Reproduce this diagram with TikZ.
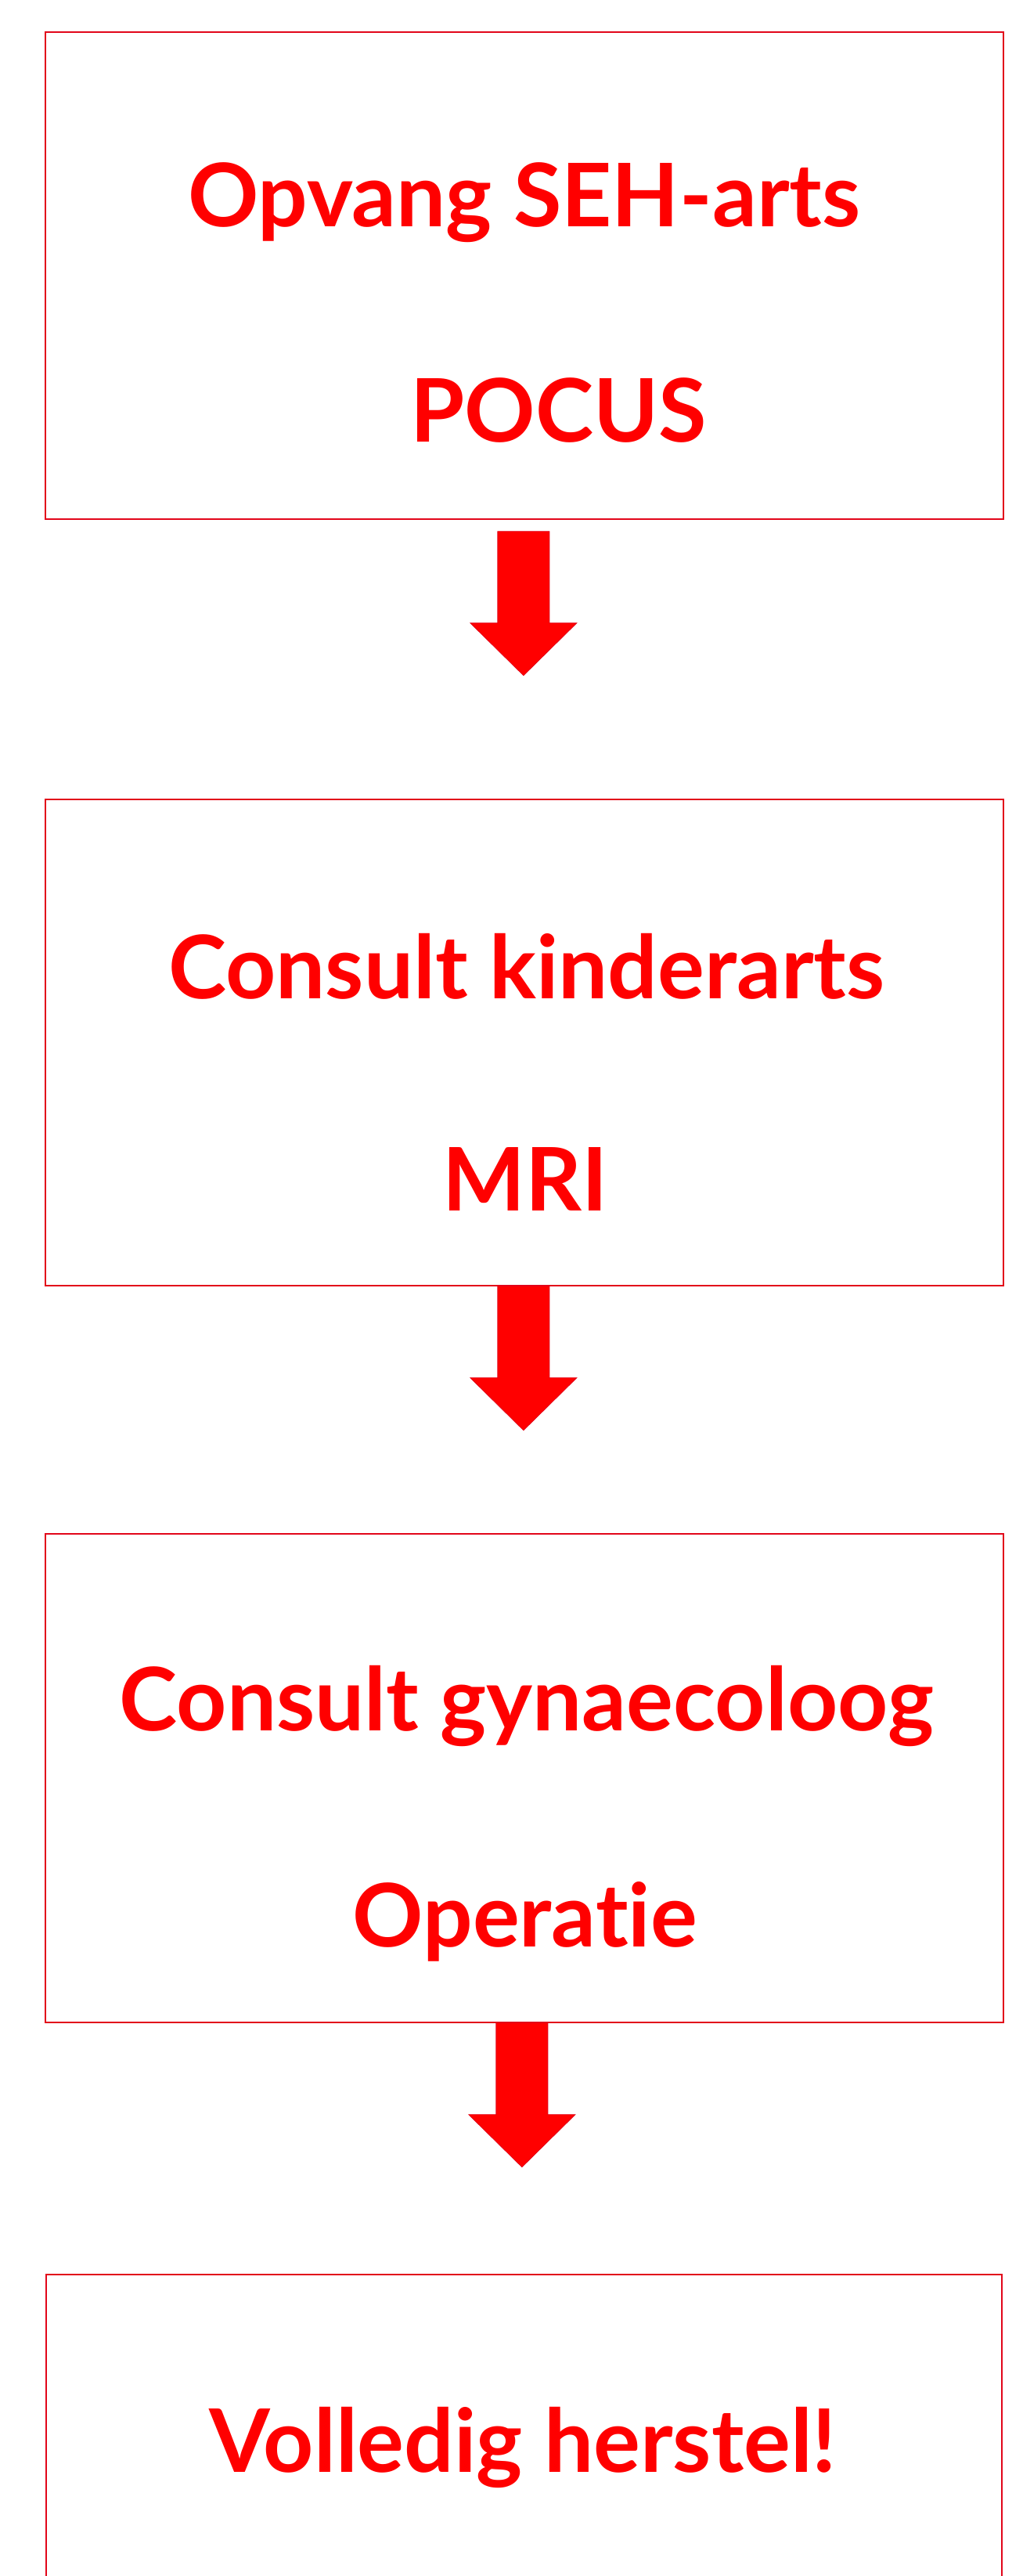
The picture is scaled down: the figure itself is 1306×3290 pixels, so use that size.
\documentclass[tikz,border=0pt]{standalone}
\usepackage{fontspec}
\setmainfont{Lato}[Ligatures=NoCommon]
\usepackage{xcolor}
\usetikzlibrary{calc}

\definecolor{randrood}{RGB}{226,6,26}
\definecolor{tekstrood}{RGB}{255,0,0}

\tikzset{
  stap/.style={draw=randrood, line width=0.85pt, minimum width=612pt, anchor=north west, inner sep=0pt},
  regel/.style={text=tekstrood, font=\fontsize{56}{58}\selectfont\bfseries, anchor=base, inner sep=0pt},
  pijl/.style={fill=tekstrood, draw=randrood, line width=0.4pt}
}

% blokpijl naar beneden vanaf een coordinaat
\newcommand{\blokpijl}[1]{%
  \filldraw[pijl] ($(#1)+(-33,0)$) -- ++(66,0) -- ++(0,117) -- ++(35,0) -- ++(-68,67) -- ++(-68,-67) -- ++(35,0) -- cycle;}

\begin{document}
\begin{tikzpicture}[x=0.5pt, y=-0.5pt]
\useasboundingbox (0,0) rectangle (1306,3290);

% stappen
\node[stap, minimum height=311pt] (opvang) at (57,40) {};
\node[stap, minimum height=310.5pt] (kinderarts) at (57,1020) {};
\node[stap, minimum height=312pt] (gynaecoloog) at (57,1958) {};
\node[stap, minimum height=311pt, minimum width=610.5pt] (herstel) at (58,2904) {};

% teksten
\node[regel] (opvangA) at ($(opvang.north)+(0,250)$) {Opvang SEH-arts};
\node[regel] (opvangB) at ($(opvang.north)+(44,524)$) {POCUS};
\node[regel] (kinderartsA) at ($(kinderarts.north)+(3,255)$) {Consult kinderarts};
\node[regel] (kinderartsB) at ($(kinderarts.north)+(1,526)$) {MRI};
\node[regel] (gynaecoloogA) at ($(gynaecoloog.north)+(3,252)$) {Consult gynaecoloog};
\node[regel] (gynaecoloogB) at ($(gynaecoloog.north)+(1,528)$) {Operatie};
\node[regel] (herstelA) at ($(herstel.north)+(-1,253)$) {Volledig herstel!};

% pijlen
\coordinate (p1) at ($(opvang.south)+(-1,15)$);
\coordinate (p2) at ($(kinderarts.south)+(-1,0)$);
\coordinate (p3) at ($(gynaecoloog.south)+(-3,0)$);
\blokpijl{p1}
\blokpijl{p2}
\blokpijl{p3}
\end{tikzpicture}
\end{document}
